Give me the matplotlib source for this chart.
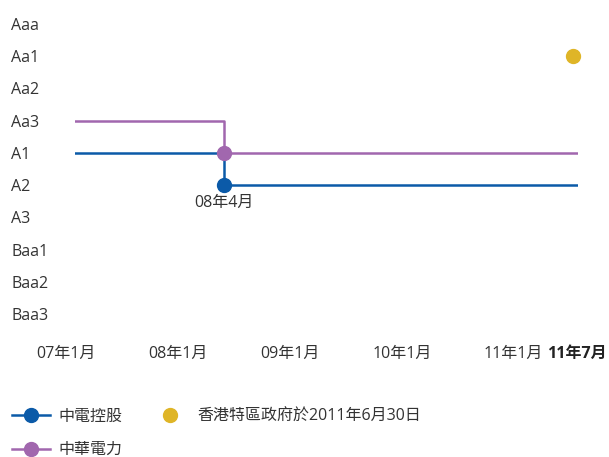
import matplotlib
matplotlib.use("Agg")
import matplotlib.pyplot as plt
import matplotlib.transforms as mtransforms
from matplotlib.lines import Line2D
import pandas as pd

plt.rcParams['font.family'] = ['Open Sans', 'Noto Sans CJK TC', 'DejaVu Sans']

ratings = ['Aaa', 'Aa1', 'Aa2', 'Aa3', 'A1', 'A2', 'A3', 'Baa1', 'Baa2', 'Baa3']

clp_dates = ['2007-01-01', '2008-04-30', '2011-07-01']
clp_ratings = ['A1', 'A2', 'A2']
cle_dates = ['2007-01-01', '2008-04-30', '2011-07-01']
cle_ratings = ['Aa3', 'A1', 'A1']
gov_dates = ['2011-06-15']
gov_ratings = ['Aa1']

tick_dates = ['2007-01-01', '2008-01-01', '2009-01-01', '2010-01-01', '2011-01-01', '2011-07-01']
tick_labels = ['07年1月', '08年1月', '09年1月', '10年1月', '11年1月', '11年7月']

series_names = ['中電控股', '中華電力', '香港特區政府於2011年6月30日']
annot_text = '08年4月'

c_blue = '#0B5AA8'
c_purple = '#A167AE'
c_yellow = '#DFB527'
c_text = '#333333'
FS = 11.5

fig = plt.figure(figsize=(6.09, 4.57), dpi=100)
ax = fig.add_axes([75/609, 1-330/457, 503/609, 322/457])

ypos = {r: i for i, r in enumerate(ratings)}

def todt(lst):
    return pd.to_datetime(lst)

x1 = todt(clp_dates); y1 = [ypos[r] for r in clp_ratings]
x2 = todt(cle_dates); y2 = [ypos[r] for r in cle_ratings]
x3 = todt(gov_dates); y3 = [ypos[r] for r in gov_ratings]

ax.plot(x2, y2, drawstyle='steps-post', color=c_purple, lw=1.8, zorder=2)
ax.plot(x1, y1, drawstyle='steps-post', color=c_blue, lw=1.8, zorder=3)
ax.plot(x1[1:2], y1[1:2], 'o', color=c_blue, ms=10, zorder=4)
ax.plot(x2[1:2], y2[1:2], 'o', color=c_purple, ms=10, zorder=5)
ax.plot(x3, y3, 'o', color=c_yellow, ms=10, zorder=4, clip_on=False)

ax.annotate(annot_text, (x1[1], y1[1]), xytext=(0, -12.5), textcoords='offset points',
            ha='center', va='center', fontsize=FS, color=c_text)

ax.set_xlim(x1[0], x1[-1])
ax.set_ylim(len(ratings) - 0.5, -0.5)
ax.set_yticks(range(len(ratings)))
ax.set_yticklabels(ratings)
ax.tick_params(axis='y', length=0, pad=46, labelsize=FS, labelcolor=c_text)
for lab in ax.get_yticklabels():
    lab.set_horizontalalignment('left')

ax.set_xticks(todt(tick_dates))
ax.set_xticklabels(tick_labels)
ax.tick_params(axis='x', length=0, pad=11.5, labelsize=FS, labelcolor=c_text)
xl = ax.get_xticklabels()
for i, lab in enumerate(xl):
    if i < len(xl) - 1:
        lab.set_transform(lab.get_transform() + mtransforms.ScaledTranslation(-9/100, 0, fig.dpi_scale_trans))
    else:
        lab.set_fontweight('bold')
        lab.set_color('#222222')
        lab.set_transform(lab.get_transform() + mtransforms.ScaledTranslation(-1/100, 0, fig.dpi_scale_trans))

for s in ax.spines.values():
    s.set_visible(False)
ax.grid(False)

handles = [
    Line2D([], [], color=c_blue, lw=1.8, marker='o', ms=10),
    Line2D([], [], color=c_purple, lw=1.8, marker='o', ms=10),
    Line2D([], [], color=c_yellow, lw=0, marker='o', ms=10),
]
leg = fig.legend(handles, series_names, loc='upper left', bbox_to_anchor=(12/609, 1-409/457),
                 ncol=2, frameon=False, fontsize=FS, handlelength=2.4,
                 handletextpad=0.5, columnspacing=1.8, labelspacing=1.07,
                 borderaxespad=0, borderpad=0)
for t in leg.get_texts():
    t.set_color(c_text)

fig.savefig('out.png', dpi=100)
